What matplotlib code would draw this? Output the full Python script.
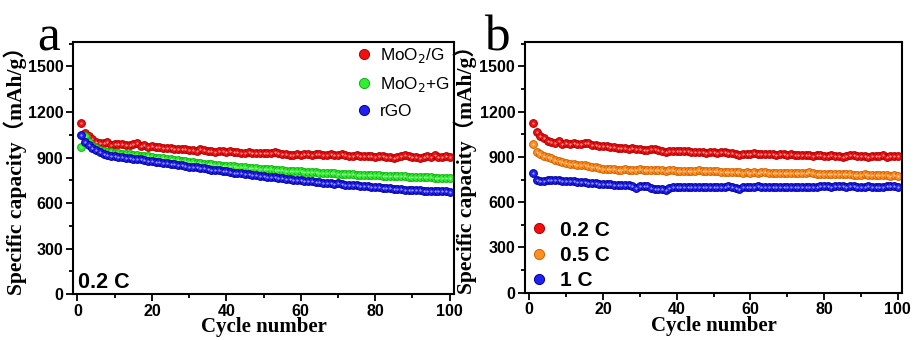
import matplotlib
matplotlib.use("Agg")
import matplotlib.pyplot as plt
import numpy as np
from matplotlib.ticker import MultipleLocator

cycles = np.arange(1, 101)

moo2_g = [1125, 1062, 1040, 1022, 1005, 998, 995, 1002, 985, 990,
          988, 992, 985, 983, 990, 995, 978, 982, 970, 975,
          972, 968, 965, 960, 962, 958, 955, 957, 953, 950,
          948, 945, 955, 952, 945, 940, 935, 942, 940, 938,
          940, 936, 938, 932, 930, 935, 930, 928, 932, 930,
          928, 930, 934, 928, 925, 920, 915, 918, 922, 918,
          925, 920, 918, 922, 920, 918, 915, 920, 918, 915,
          920, 915, 912, 910, 915, 912, 908, 912, 910, 905,
          908, 910, 905, 903, 900, 905, 910, 915, 908, 905,
          903, 900, 905, 908, 903, 915, 902, 905, 908, 905]

moo2_plus_g = [970, 1040, 1000, 975, 960, 950, 942, 938, 935, 930,
               928, 925, 922, 920, 918, 915, 912, 910, 907, 903,
               900, 897, 894, 890, 887, 884, 881, 878, 875, 872,
               869, 866, 863, 860, 857, 855, 852, 850, 847, 845,
               843, 841, 839, 837, 835, 833, 831, 829, 827, 825,
               823, 821, 819, 818, 816, 814, 812, 811, 809, 808,
               806, 805, 803, 802, 800, 799, 798, 796, 795, 794,
               793, 791, 790, 789, 788, 787, 786, 785, 784, 783,
               782, 781, 780, 779, 778, 777, 776, 775, 774, 773,
               772, 771, 771, 770, 769, 768, 768, 767, 766, 765]

rgo = [1050, 1000, 985, 965, 950, 935, 925, 918, 912, 908,
       905, 903, 900, 895, 892, 888, 890, 885, 880, 877,
       873, 870, 866, 862, 858, 855, 852, 848, 845, 840,
       838, 836, 832, 828, 824, 820, 818, 815, 812, 808,
       805, 801, 798, 795, 793, 790, 786, 782, 780, 777,
       774, 772, 770, 766, 763, 760, 758, 755, 752, 750,
       748, 746, 743, 740, 738, 735, 733, 730, 728, 730,
       727, 722, 720, 718, 716, 713, 711, 712, 708, 705,
       703, 701, 699, 697, 695, 693, 691, 689, 688, 686,
       684, 683, 682, 680, 679, 678, 681, 679, 677, 673]

rate_02c = moo2_g

rate_05c = [985, 930, 918, 908, 898, 890, 882, 875, 868, 862,
            856, 850, 846, 848, 845, 840, 836, 830, 825, 822,
            820, 822, 818, 816, 815, 818, 814, 812, 815, 818,
            815, 812, 814, 812, 810, 812, 808, 810, 812, 808,
            806, 808, 806, 805, 808, 810, 808, 806, 805, 806,
            804, 802, 803, 800, 798, 800, 797, 796, 798, 795,
            798, 796, 800, 802, 796, 793, 795, 792, 794, 792,
            790, 792, 790, 793, 796, 798, 793, 789, 788, 787,
            786, 788, 786, 785, 784, 786, 784, 782, 781, 780,
            784, 783, 781, 780, 779, 778, 777, 776, 778, 775]

rate_1c = [790, 745, 740, 742, 745, 746, 745, 744, 743, 742,
           741, 740, 736, 734, 732, 730, 728, 725, 722, 720,
           720, 718, 716, 714, 714, 712, 712, 708, 692, 705,
           706, 704, 695, 690, 690, 688, 682, 696, 700, 700,
           700, 700, 700, 700, 700, 700, 700, 698, 700, 700,
           700, 702, 700, 705, 698, 692, 690, 700, 702, 700,
           702, 705, 702, 700, 700, 702, 700, 700, 702, 703,
           702, 702, 703, 703, 703, 702, 702, 703, 704, 704,
           704, 703, 704, 705, 704, 703, 704, 704, 703, 703,
           703, 704, 702, 703, 702, 703, 706, 705, 704, 702]

serif = ["Liberation Serif", "Noto Sans CJK SC"]
sans = "Liberation Sans"


def draw(ax, x, y, color, edge, label):
    ax.plot(x, y, "o", ms=5.6, mfc=color, mec=edge, mew=0.7, label=label,
            linestyle="none")
    ax.plot(x, y, "o", ms=1.6, mfc="white", mec="none", alpha=0.6)


def style(ax, letter, lab_x, letter_x):
    ax.set_xlim(-1.2, 101.2)
    ax.set_ylim(0, 1660)
    ax.xaxis.set_major_locator(MultipleLocator(20))
    ax.xaxis.set_minor_locator(MultipleLocator(10))
    ax.yaxis.set_major_locator(MultipleLocator(300))
    ax.yaxis.set_minor_locator(MultipleLocator(150))
    ax.tick_params(which="both", direction="out", width=1.3, top=False, right=False)
    ax.tick_params(which="major", length=5, pad=2)
    ax.tick_params(which="minor", length=3)
    for lab in ax.get_xticklabels() + ax.get_yticklabels():
        lab.set_fontfamily(sans)
        lab.set_fontweight("bold")
        lab.set_fontsize(11.5)
    for sp in ax.spines.values():
        sp.set_linewidth(1.5)
    ax.set_xlabel("Cycle number", family=serif, fontweight="bold", fontsize=15,
                  labelpad=-1)
    ax.set_ylabel("Specific capacity（mAh/g）", family=serif, fontweight="bold",
                  fontsize=15.5)
    ax.yaxis.set_label_coords(lab_x, 0.51)
    ax.text(letter_x, 0.965, letter, transform=ax.transAxes, family=serif,
            fontsize=37, ha="left", va="baseline")


fig = plt.figure(figsize=(9.16, 3.4), dpi=100)
ax1 = fig.add_axes([0.0797, 0.135, 0.416, 0.741])
ax2 = fig.add_axes([0.573, 0.139, 0.412, 0.737])

draw(ax1, cycles, moo2_g, "#f01010", "#b00000", "MoO$_2$/G")
draw(ax1, cycles, moo2_plus_g, "#30f030", "#10b010", "MoO$_2$+G")
draw(ax1, cycles, rgo, "#2020f0", "#0000a0", "rGO")
style(ax1, "a", -0.122, -0.095)
ax1.legend(loc="upper left", bbox_to_anchor=(0.74, 0.985), frameon=False,
           handlelength=1.0, handletextpad=0.45, labelspacing=0.6,
           borderaxespad=0, borderpad=0, markerscale=1.3,
           prop={"family": sans, "size": 12.3})
ax1.text(0.012, 0.025, "0.2 C", transform=ax1.transAxes, family=sans,
         fontweight="bold", fontsize=15.5)

draw(ax2, cycles, rate_02c, "#f01010", "#b00000", "0.2 C")
draw(ax2, cycles, rate_05c, "#ff9020", "#d06000", "0.5 C")
draw(ax2, cycles, rate_1c, "#2020f0", "#0000a0", "1 C")
style(ax2, "b", -0.126, -0.109)
ax2.legend(loc="lower left", bbox_to_anchor=(0.01, 0.01), frameon=False,
           handlelength=1.0, handletextpad=0.5, labelspacing=0.3,
           borderaxespad=0, borderpad=0, markerscale=1.3,
           prop={"family": sans, "size": 15, "weight": "bold"})

fig.savefig("out.png", dpi=100)
